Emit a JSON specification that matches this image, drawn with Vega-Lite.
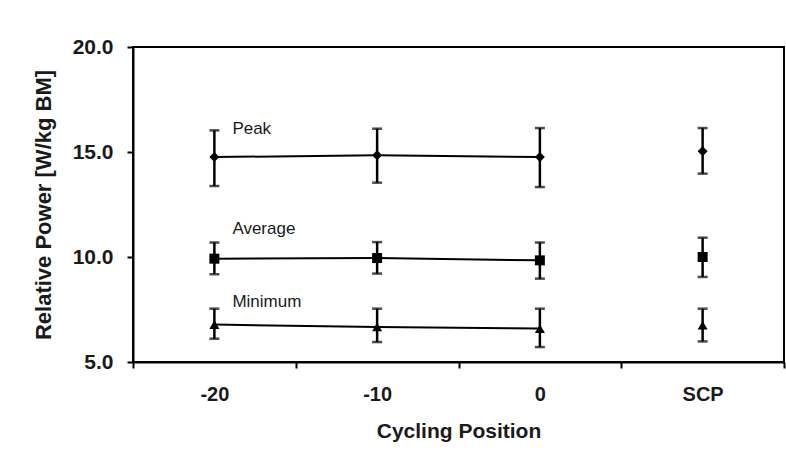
{
  "$schema": "https://vega.github.io/schema/vega-lite/v6.json",
  "width": 651,
  "height": 315,
  "autosize": "none",
  "padding": {"left": 133, "top": 47, "right": 2, "bottom": 103},
  "background": "white",
  "config": {
    "view": {"stroke": "black", "strokeWidth": 2},
    "font": "Liberation Sans"
  },
  "datasets": {
    "pts": [
      {"pos": "-20", "series": "Peak", "mean": 14.76, "lo": 13.38, "hi": 16.03},
      {"pos": "-10", "series": "Peak", "mean": 14.84, "lo": 13.54, "hi": 16.11},
      {"pos": "0", "series": "Peak", "mean": 14.76, "lo": 13.33, "hi": 16.14},
      {"pos": "SCP", "series": "Peak", "mean": 15.03, "lo": 13.97, "hi": 16.14},
      {"pos": "-20", "series": "Average", "mean": 9.92, "lo": 9.18, "hi": 10.69},
      {"pos": "-10", "series": "Average", "mean": 9.95, "lo": 9.21, "hi": 10.71},
      {"pos": "0", "series": "Average", "mean": 9.84, "lo": 8.97, "hi": 10.69},
      {"pos": "SCP", "series": "Average", "mean": 10.0, "lo": 9.05, "hi": 10.92},
      {"pos": "-20", "series": "Minimum", "mean": 6.78, "lo": 6.11, "hi": 7.54},
      {"pos": "-10", "series": "Minimum", "mean": 6.67, "lo": 5.95, "hi": 7.54},
      {"pos": "0", "series": "Minimum", "mean": 6.59, "lo": 5.71, "hi": 7.54},
      {"pos": "SCP", "series": "Minimum", "mean": 6.75, "lo": 5.98, "hi": 7.54}
    ],
    "labels": [
      {"pos": "-20", "label": "Peak", "y": 16.08},
      {"pos": "-20", "label": "Average", "y": 11.32},
      {"pos": "-20", "label": "Minimum", "y": 7.86}
    ]
  },
  "encoding": {
    "x": {
      "field": "pos",
      "type": "nominal",
      "sort": ["-20", "-10", "0", "SCP"],
      "scale": {"domain": ["-20", "-10", "0", "SCP"], "paddingInner": 0, "paddingOuter": 0},
      "axis": {
        "title": "Cycling Position",
        "titleFont": "Liberation Sans",
        "titleFontSize": 21,
        "titleFontWeight": "bold",
        "titleColor": "#1a1a1a",
        "titlePadding": 16,
        "labelAngle": 0,
        "labelFontSize": 20,
        "labelFontWeight": "bold",
        "labelColor": "#1a1a1a",
        "labelPadding": 16,
        "tickBand": "extent",
        "tickSize": 6,
        "tickWidth": 2,
        "tickColor": "black",
        "domainColor": "black",
        "domainWidth": 2,
        "grid": false
      }
    }
  },
  "layer": [
    {
      "data": {"name": "pts"},
      "transform": [{"filter": "datum.pos !== 'SCP'"}],
      "mark": {"type": "line", "color": "black", "strokeWidth": 2},
      "encoding": {
        "y": {
          "field": "mean",
          "type": "quantitative",
          "scale": {"domain": [5, 20], "nice": false, "zero": false},
          "axis": {
            "title": "Relative Power [W/kg BM]",
            "titleFont": "Liberation Sans",
            "titleFontSize": 22,
            "titleFontWeight": "bold",
            "titleColor": "#1a1a1a",
            "titlePadding": 17,
            "values": [5, 10, 15, 20],
            "format": ".1f",
            "labelFontSize": 21,
            "labelFontWeight": "bold",
            "labelColor": "#1a1a1a",
            "labelPadding": 14,
            "tickSize": 6,
            "tickWidth": 2,
            "tickColor": "black",
            "domainColor": "black",
            "domainWidth": 2,
            "grid": false
          }
        },
        "detail": {"field": "series", "type": "nominal"}
      }
    },
    {
      "data": {"name": "pts"},
      "mark": {"type": "rule", "color": "black", "strokeWidth": 2.5},
      "encoding": {
        "y": {"field": "lo", "type": "quantitative"},
        "y2": {"field": "hi"}
      }
    },
    {
      "data": {"name": "pts"},
      "mark": {"type": "tick", "color": "black", "thickness": 2.5, "size": 10, "orient": "horizontal"},
      "encoding": {"y": {"field": "lo", "type": "quantitative"}}
    },
    {
      "data": {"name": "pts"},
      "mark": {"type": "tick", "color": "black", "thickness": 2.5, "size": 10, "orient": "horizontal"},
      "encoding": {"y": {"field": "hi", "type": "quantitative"}}
    },
    {
      "data": {"name": "pts"},
      "mark": {"type": "point", "filled": true, "color": "black", "opacity": 1, "size": 100},
      "encoding": {
        "y": {"field": "mean", "type": "quantitative"},
        "shape": {
          "field": "series",
          "type": "nominal",
          "scale": {"domain": ["Peak", "Average", "Minimum"], "range": ["diamond", "square", "triangle-up"]},
          "legend": null
        }
      }
    },
    {
      "data": {"name": "labels"},
      "mark": {"type": "text", "align": "left", "baseline": "middle", "dx": 18, "fontSize": 17, "color": "#1a1a1a", "font": "Liberation Sans"},
      "encoding": {
        "y": {"field": "y", "type": "quantitative"},
        "text": {"field": "label"}
      }
    }
  ]
}
